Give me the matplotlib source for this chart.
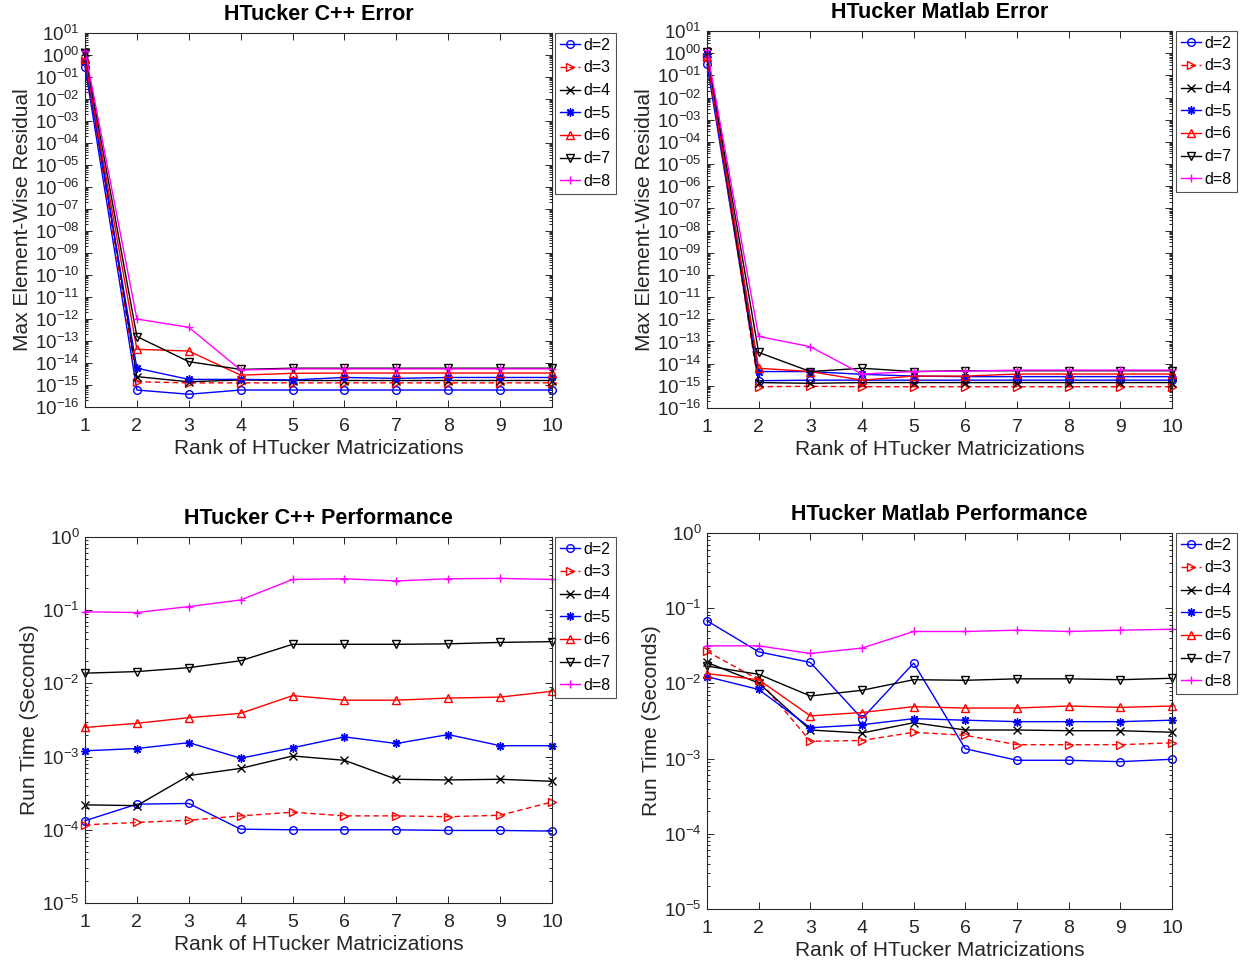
import numpy as np
import matplotlib
matplotlib.use("Agg")
import matplotlib.pyplot as plt
from matplotlib.ticker import LogLocator, FuncFormatter, NullFormatter, FixedLocator

plt.rcParams['font.family'] = ['Liberation Sans', 'DejaVu Sans']
plt.rcParams['mathtext.fontset'] = 'custom'
plt.rcParams['mathtext.rm'] = 'Liberation Sans'

ranks = [1, 2, 3, 4, 5, 6, 7, 8, 9, 10]
labels = ['d=2', 'd=3', 'd=4', 'd=5', 'd=6', 'd=7', 'd=8']

# HTucker C++ Error
cpp_err_d2 = [3.0e-1, 5.9e-16, 3.8e-16, 5.9e-16, 5.9e-16, 5.9e-16, 5.9e-16, 5.9e-16, 5.9e-16, 5.9e-16]
cpp_err_d3 = [5.6e-1, 1.4e-15, 1.25e-15, 1.25e-15, 1.25e-15, 1.25e-15, 1.25e-15, 1.25e-15, 1.25e-15, 1.25e-15]
cpp_err_d4 = [1.4, 2.4e-15, 1.4e-15, 1.7e-15, 1.6e-15, 1.6e-15, 1.6e-15, 1.6e-15, 1.6e-15, 1.6e-15]
cpp_err_d5 = [5.0e-1, 5.8e-15, 1.8e-15, 1.8e-15, 1.7e-15, 2.2e-15, 2.0e-15, 2.2e-15, 2.2e-15, 2.2e-15]
cpp_err_d6 = [6.3e-1, 4.2e-14, 3.5e-14, 2.8e-15, 3.4e-15, 3.5e-15, 3.5e-15, 3.5e-15, 3.5e-15, 3.5e-15]
cpp_err_d7 = [1.25, 1.6e-13, 1.15e-14, 5.1e-15, 5.8e-15, 5.8e-15, 5.8e-15, 5.8e-15, 5.8e-15, 5.8e-15]
cpp_err_d8 = [1.6, 1.0e-12, 4.2e-13, 4.8e-15, 5.4e-15, 5.4e-15, 5.4e-15, 5.4e-15, 5.4e-15, 5.4e-15]

# HTucker Matlab Error
mat_err_d2 = [3.2e-1, 1.7e-15, 1.8e-15, 1.8e-15, 1.8e-15, 1.8e-15, 1.8e-15, 1.8e-15, 1.8e-15, 1.8e-15]
mat_err_d3 = [7.0e-1, 9.1e-16, 9.5e-16, 9.1e-16, 9.1e-16, 9.1e-16, 9.1e-16, 9.1e-16, 9.1e-16, 9.1e-16]
mat_err_d4 = [1.0, 1.4e-15, 1.3e-15, 1.4e-15, 1.4e-15, 1.4e-15, 1.4e-15, 1.4e-15, 1.4e-15, 1.4e-15]
mat_err_d5 = [8.9e-1, 4.4e-15, 4.4e-15, 3.3e-15, 2.75e-15, 2.6e-15, 2.6e-15, 2.6e-15, 2.6e-15, 2.6e-15]
mat_err_d6 = [7.0e-1, 6.2e-15, 4.4e-15, 1.8e-15, 2.75e-15, 2.75e-15, 3.4e-15, 3.4e-15, 3.4e-15, 3.4e-15]
mat_err_d7 = [1.1, 3.2e-14, 4.4e-15, 6.2e-15, 4.4e-15, 4.8e-15, 4.8e-15, 4.8e-15, 4.8e-15, 4.8e-15]
mat_err_d8 = [1.4, 1.7e-13, 5.8e-14, 3.4e-15, 4.4e-15, 4.6e-15, 5.1e-15, 5.1e-15, 5.1e-15, 5.1e-15]

# HTucker C++ Performance (seconds)
cpp_time_d2 = [1.33e-4, 2.24e-4, 2.29e-4, 1.02e-4, 1.0e-4, 1.0e-4, 1.0e-4, 9.8e-5, 9.8e-5, 9.6e-5]
cpp_time_d3 = [1.17e-4, 1.26e-4, 1.35e-4, 1.55e-4, 1.74e-4, 1.55e-4, 1.55e-4, 1.51e-4, 1.58e-4, 2.4e-4]
cpp_time_d4 = [2.19e-4, 2.14e-4, 5.5e-4, 6.9e-4, 1.02e-3, 8.9e-4, 4.9e-4, 4.8e-4, 4.9e-4, 4.6e-4]
cpp_time_d5 = [1.2e-3, 1.29e-3, 1.55e-3, 9.5e-4, 1.32e-3, 1.86e-3, 1.51e-3, 2.0e-3, 1.41e-3, 1.41e-3]
cpp_time_d6 = [2.5e-3, 2.85e-3, 3.4e-3, 3.9e-3, 6.8e-3, 5.9e-3, 5.9e-3, 6.3e-3, 6.5e-3, 7.8e-3]
cpp_time_d7 = [1.38e-2, 1.45e-2, 1.64e-2, 2.04e-2, 3.42e-2, 3.42e-2, 3.42e-2, 3.47e-2, 3.63e-2, 3.72e-2]
cpp_time_d8 = [9.5e-2, 9.3e-2, 1.12e-1, 1.38e-1, 2.63e-1, 2.69e-1, 2.51e-1, 2.69e-1, 2.72e-1, 2.63e-1]

# HTucker Matlab Performance (seconds)
mat_time_d2 = [6.8e-2, 2.63e-2, 1.9e-2, 3.4e-3, 1.86e-2, 1.35e-3, 9.5e-4, 9.5e-4, 9.1e-4, 9.8e-4]
mat_time_d3 = [2.66e-2, 1.12e-2, 1.7e-3, 1.74e-3, 2.24e-3, 2.04e-3, 1.53e-3, 1.53e-3, 1.53e-3, 1.62e-3]
mat_time_d4 = [1.9e-2, 1.01e-2, 2.4e-3, 2.19e-3, 3.0e-3, 2.4e-3, 2.4e-3, 2.35e-3, 2.35e-3, 2.24e-3]
mat_time_d5 = [1.23e-2, 8.3e-3, 2.57e-3, 2.82e-3, 3.4e-3, 3.24e-3, 3.1e-3, 3.1e-3, 3.1e-3, 3.24e-3]
mat_time_d6 = [1.35e-2, 1.12e-2, 3.7e-3, 4.1e-3, 4.9e-3, 4.7e-3, 4.7e-3, 5.0e-3, 4.8e-3, 5.0e-3]
mat_time_d7 = [1.7e-2, 1.32e-2, 6.8e-3, 8.1e-3, 1.12e-2, 1.1e-2, 1.15e-2, 1.15e-2, 1.12e-2, 1.17e-2]
mat_time_d8 = [3.16e-2, 3.16e-2, 2.5e-2, 2.95e-2, 4.9e-2, 4.9e-2, 5.1e-2, 4.9e-2, 5.1e-2, 5.25e-2]

styles = [
    dict(color='#0000ff', ls='-', marker='o'),
    dict(color='#ff0000', ls='--', marker='>'),
    dict(color='#000000', ls='-', marker='x'),
    dict(color='#0000ff', ls='-', marker=(8, 2, 0)),
    dict(color='#ff0000', ls='-', marker='^'),
    dict(color='#000000', ls='-', marker='v'),
    dict(color='#ff00ff', ls='-', marker='+'),
]

W, H = 1241, 963
fig = plt.figure(figsize=(W / 100, H / 100), dpi=100)
AXC = '#262626'


def px_axes(l, r, t, b):
    return fig.add_axes([l / W, 1 - b / H, (r - l) / W, (b - t) / H])


def fmt_two(v, pos):
    e = int(round(np.log10(v)))
    return r'$\mathregular{10^{%s}}$' % (f"{e:03d}" if e < 0 else f"{e:02d}")


def fmt_plain(v, pos):
    e = int(round(np.log10(v)))
    return r'$\mathregular{10^{%d}}$' % e


def setup(ax, series, title, ylabel, ylim, formatter, leg_xy, tpad):
    for s, lab, st in zip(series, labels, styles):
        mk = st['marker']
        ms = 6 if mk in ('+', 'x') or isinstance(mk, tuple) else 5.5
        ax.plot(ranks, s, label=lab, color=st['color'], ls=st['ls'],
                marker=mk, ms=ms, mfc='none', mec=st['color'],
                mew=1.0, lw=1.0, clip_on=False)
        if st['ls'] == '--':
            ax.get_lines()[-1].set_dashes((4, 2.5))
    ax.set_yscale('log')
    ax.set_xlim(1, 10)
    ax.set_ylim(*ylim)
    ax.xaxis.set_major_locator(FixedLocator(ranks))
    ax.yaxis.set_major_locator(LogLocator(base=10, numticks=100))
    ax.yaxis.set_minor_locator(LogLocator(base=10, subs=np.arange(2, 10), numticks=100))
    ax.yaxis.set_minor_formatter(NullFormatter())
    ax.yaxis.set_major_formatter(FuncFormatter(formatter))
    ax.tick_params(which='both', direction='in', top=True, right=True,
                   colors=AXC, labelcolor=AXC, width=0.7)
    ax.tick_params(which='major', length=5, labelsize=13.5)
    ax.tick_params(axis='x', which='major', pad=8, labelsize=14)
    ax.tick_params(axis='y', which='major', pad=4)
    ax.tick_params(which='minor', length=2.5)
    for sp in ax.spines.values():
        sp.set_color(AXC)
        sp.set_linewidth(0.8)
    ax.set_title(title, fontsize=15.5, fontweight='bold', color='black', pad=tpad)
    ax.set_xlabel('Rank of HTucker Matricizations', fontsize=15, color=AXC, labelpad=3)
    ax.set_ylabel(ylabel, fontsize=15, color=AXC, labelpad=2)
    leg = fig.legend(loc='upper left', bbox_to_anchor=(leg_xy[0] / W, 1 - leg_xy[1] / H),
                     bbox_transform=fig.transFigure, fontsize=11.5, frameon=True,
                     fancybox=False, handlelength=1.25, handletextpad=0.25,
                     labelspacing=0.48, borderpad=0.3, borderaxespad=0.0,
                     handles=ax.get_lines())
    leg.get_frame().set_edgecolor(AXC)
    leg.get_frame().set_linewidth(0.8)
    for t in leg.get_texts():
        t.set_color('black')


ax1 = px_axes(85, 552, 33, 407)
setup(ax1, [cpp_err_d2, cpp_err_d3, cpp_err_d4, cpp_err_d5, cpp_err_d6, cpp_err_d7, cpp_err_d8],
      'HTucker C++ Error', 'Max Element-Wise Residual', (1e-16, 1e1), fmt_two, (555, 33), 9)

ax2 = px_axes(707, 1172, 31, 408)
setup(ax2, [mat_err_d2, mat_err_d3, mat_err_d4, mat_err_d5, mat_err_d6, mat_err_d7, mat_err_d8],
      'HTucker Matlab Error', 'Max Element-Wise Residual', (1e-16, 1e1), fmt_two, (1176, 31), 9)

ax3 = px_axes(85, 552, 537, 903)
setup(ax3, [cpp_time_d2, cpp_time_d3, cpp_time_d4, cpp_time_d5, cpp_time_d6, cpp_time_d7, cpp_time_d8],
      'HTucker C++ Performance', 'Run Time (Seconds)', (1e-5, 1e0), fmt_plain, (555, 537), 9.5)

ax4 = px_axes(707, 1172, 533, 909)
setup(ax4, [mat_time_d2, mat_time_d3, mat_time_d4, mat_time_d5, mat_time_d6, mat_time_d7, mat_time_d8],
      'HTucker Matlab Performance', 'Run Time (Seconds)', (1e-5, 1e0), fmt_plain, (1176, 533), 9.5)

fig.savefig('out.png', dpi=100)
